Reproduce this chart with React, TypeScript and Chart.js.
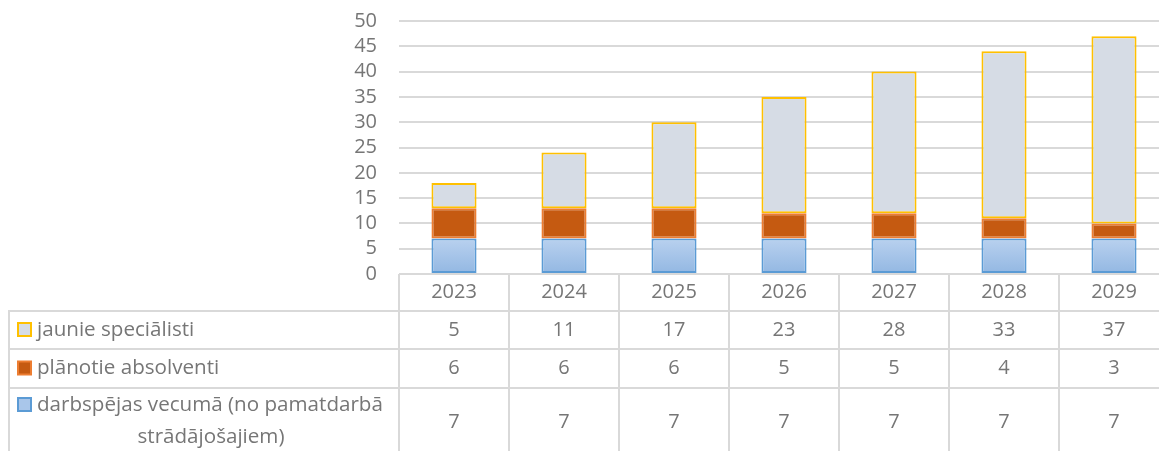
import React, { useEffect, useRef } from "react";
import { Chart, registerables } from "chart.js";

Chart.register(...registerables);

const categories = ["2023", "2024", "2025", "2026", "2027", "2028", "2029"];
const darbspejas = [7, 7, 7, 7, 7, 7, 7];
const absolventi = [6, 6, 6, 5, 5, 4, 3];
const jaunie = [5, 11, 17, 23, 28, 33, 37];
const seriesNames = [
  "darbspējas vecumā (no pamatdarbā strādājošajiem)",
  "plānotie absolventi",
  "jaunie speciālisti",
];
const yMax = 50;
const yStep = 5;

const TEXT = "#767676";
const GRID = "#d9d9d9";
const FONT = "'Open Sans', Lato, sans-serif";

function blueFill(context: any) {
  const chart = context.chart;
  const y = chart.scales && chart.scales.y;
  if (!y || !chart.chartArea) return "#a9c6ea";
  const v = darbspejas[context.dataIndex] ?? 7;
  const top = y.getPixelForValue(v);
  const bottom = y.getPixelForValue(0);
  if (!isFinite(top) || !isFinite(bottom) || top === bottom) return "#a9c6ea";
  const g = chart.ctx.createLinearGradient(0, top, 0, bottom);
  g.addColorStop(0, "#b9d1ef");
  g.addColorStop(1, "#92b7e2");
  return g;
}

const tablePlugin = {
  id: "dataTable",
  afterDraw(chart: any) {
    const ctx = chart.ctx;
    const xs = chart.scales.x;
    const area = chart.chartArea;
    const n = categories.length;
    const colW = (xs.right - xs.left) / n;
    const left = 9;
    const headerTop = area.bottom;
    const headerBottom = headerTop + 37;
    const r1 = headerBottom + 38;
    const r2 = r1 + 39;
    const bottom = chart.height + 5;

    ctx.save();
    ctx.strokeStyle = GRID;
    ctx.lineWidth = 2;
    ctx.beginPath();
    for (let k = 0; k <= n; k++) {
      const x = Math.round(xs.left + k * colW);
      ctx.moveTo(x, headerTop);
      ctx.lineTo(x, bottom);
    }
    ctx.moveTo(left, headerBottom);
    ctx.lineTo(left, bottom);
    [headerBottom, r1, r2].forEach((y) => {
      ctx.moveTo(left - 1, y);
      ctx.lineTo(xs.right + 2, y);
    });
    ctx.stroke();

    ctx.fillStyle = TEXT;
    ctx.font = `20px ${FONT}`;
    ctx.textBaseline = "middle";
    ctx.textAlign = "center";
    const rowsData = [jaunie, absolventi, darbspejas];
    const rowCenters = [(headerBottom + r1) / 2, (r1 + r2) / 2, r2 + 34];
    for (let i = 0; i < n; i++) {
      const cx = xs.getPixelForValue(i);
      ctx.fillText(categories[i], cx, (headerTop + headerBottom) / 2);
      rowsData.forEach((arr, r) => {
        ctx.fillText(String(arr[i]), cx, rowCenters[r]);
      });
    }

    const keys = [
      { fill: "#d6dce5", stroke: "#ffc000" },
      { fill: "#c55a11", stroke: "#ed7d31" },
      { fill: "#a9c6ea", stroke: "#5b9bd5" },
    ];
    const labelY = [rowCenters[0], rowCenters[1], r2 + 17];
    keys.forEach((k, r) => {
      ctx.fillStyle = k.fill;
      ctx.strokeStyle = k.stroke;
      ctx.lineWidth = 2;
      ctx.fillRect(18, labelY[r] - 7, 13, 13);
      ctx.strokeRect(18, labelY[r] - 7, 13, 13);
    });
    ctx.fillStyle = TEXT;
    ctx.font = `20.6px ${FONT}`;
    ctx.textAlign = "left";
    ctx.fillText(seriesNames[2], 37, labelY[0]);
    ctx.fillText(seriesNames[1], 37, labelY[1]);
    ctx.fillText("darbspējas vecumā (no pamatdarbā", 37, labelY[2]);
    ctx.textAlign = "center";
    ctx.fillText("strādājošajiem)", 211, labelY[2] + 32);
    ctx.restore();
  },
};

export default function App() {
  const ref = useRef<HTMLCanvasElement | null>(null);
  useEffect(() => {
    if (!ref.current) return;
    const chart = new Chart(ref.current, {
      type: "bar",
      data: {
        labels: categories,
        datasets: [
          {
            label: seriesNames[0],
            data: darbspejas,
            backgroundColor: blueFill,
            borderColor: "#5b9bd5",
            borderWidth: 2,
            borderSkipped: false,
          },
          {
            label: seriesNames[1],
            data: absolventi,
            backgroundColor: "#c55a11",
            borderColor: "#ed7d31",
            borderWidth: 2,
            borderSkipped: false,
          },
          {
            label: seriesNames[2],
            data: jaunie,
            backgroundColor: "#d6dce5",
            borderColor: "#ffc000",
            borderWidth: 2,
            borderSkipped: false,
          },
        ],
      },
      options: {
        responsive: false,
        animation: false,
        layout: { padding: { top: 21, bottom: 177, left: 0, right: 6 } },
        plugins: {
          legend: { display: false },
          tooltip: { enabled: false },
        },
        datasets: {
          bar: { barPercentage: 0.41, categoryPercentage: 1 },
        },
        scales: {
          x: {
            stacked: true,
            display: false,
          },
          y: {
            stacked: true,
            min: 0,
            max: yMax,
            ticks: {
              stepSize: yStep,
              autoSkip: false,
              color: TEXT,
              padding: 22,
              font: { family: FONT, size: 20 },
            },
            grid: { color: GRID, lineWidth: 2, drawTicks: false },
            border: { display: false },
            afterFit: (s: any) => {
              s.width = 399;
              s.paddingTop = 0;
              s.paddingBottom = 0;
            },
          },
        },
      },
      plugins: [tablePlugin],
    });
    return () => chart.destroy();
  }, []);
  return (
    <div
      style={{
        position: "fixed",
        left: 0,
        top: 0,
        width: 1159,
        height: 451,
        overflow: "hidden",
        background: "#fff",
      }}
    >
      <canvas ref={ref} width={1175} height={451} style={{ width: 1175, height: 451, display: "block" }} />
    </div>
  );
}
